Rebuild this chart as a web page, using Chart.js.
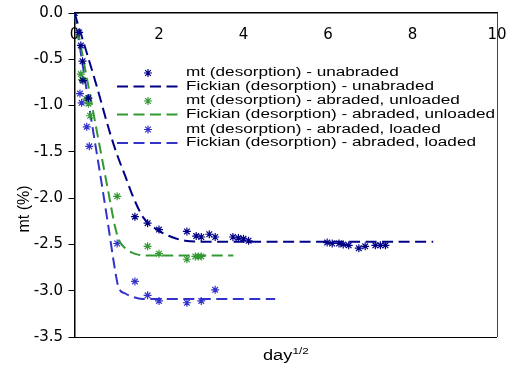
<!DOCTYPE html>
<html><head><meta charset="utf-8">
<script src="https://cdn.jsdelivr.net/npm/chart.js@4.4.0/dist/chart.umd.min.js"></script>
<style>html,body{margin:0;padding:0;background:#fff;}#wrap{width:507px;height:367px;position:relative;}</style>
</head><body><div id="wrap"><canvas id="c" width="507" height="367"></canvas></div>
<script>
// ---- data ----
const xTickValues = [0, 2, 4, 6, 8, 10];
const yTickValues = [0, -0.5, -1, -1.5, -2, -2.5, -3, -3.5];
const seriesLabels = [
  'mt (desorption) - unabraded',
  'Fickian (desorption) - unabraded',
  'mt (desorption) - abraded, unloaded',
  'Fickian (desorption) - abraded, unloaded',
  'mt (desorption) - abraded, loaded',
  'Fickian (desorption) - abraded, loaded'
];
const mtUnabraded = [[0,0],[0.11,-0.21],[0.15,-0.35],[0.19,-0.52],[0.2,-0.73],[0.33,-0.92],[1.43,-2.20],[1.73,-2.27],[2.0,-2.34],[2.66,-2.36],[2.88,-2.41],[3.0,-2.42],[3.19,-2.39],[3.33,-2.42],[3.75,-2.42],[3.88,-2.43],[4.0,-2.44],[4.12,-2.46],[5.98,-2.48],[6.1,-2.49],[6.26,-2.49],[6.36,-2.50],[6.49,-2.51],[6.73,-2.54],[6.88,-2.52],[7.12,-2.51],[7.24,-2.51],[7.36,-2.51]];
const fickUnabraded = [[0,0],[0.25,-0.37],[0.5,-0.75],[0.83,-1.28],[1.0,-1.52],[1.2,-1.76],[1.4,-2.0],[1.63,-2.21],[1.95,-2.34],[2.3,-2.42],[2.62,-2.46],[3.0,-2.47],[8.49,-2.47]];
const mtAbradedUnloaded = [[0,0],[0.15,-0.66],[0.18,-0.72],[0.28,-0.93],[0.33,-0.98],[0.37,-1.11],[1.01,-1.98],[1.73,-2.52],[2.0,-2.60],[2.66,-2.66],[2.86,-2.63],[2.93,-2.63],[3.0,-2.63]];
const fickAbradedUnloaded = [[0,0],[0.3,-0.72],[0.6,-1.45],[0.8,-1.93],[0.96,-2.31],[1.05,-2.45],[1.2,-2.54],[1.5,-2.61],[1.8,-2.62],[3.76,-2.62]];
const mtAbradedLoaded = [[0,0],[0.13,-0.87],[0.17,-0.97],[0.29,-1.23],[0.35,-1.44],[1.01,-2.49],[1.43,-2.90],[1.73,-3.05],[2.0,-3.11],[2.66,-3.13],[3.0,-3.11],[3.33,-2.99]];
const fickAbradedLoaded = [[0,0],[0.2,-0.58],[0.4,-1.16],[0.6,-1.72],[0.8,-2.3],[0.95,-2.75],[1.04,-2.96],[1.2,-3.03],[1.4,-3.07],[1.6,-3.09],[4.75,-3.09]];

// ---- styles ----
const NAVY = '#000086', GREEN = '#339933', BLUE = '#3333CC';
const DASH = [11, 5.5];
const toXY = a => a.map(([x, y]) => ({x, y}));

function pts(label, data, color) {
  return {label, data: toXY(data), showLine: false, pointStyle: 'star', pointRadius: 4,
    borderColor: color, backgroundColor: color, pointBorderWidth: 1.2};
}
function fit(label, data, color) {
  return {label, data: toXY(data), showLine: true, pointRadius: 0, borderColor: color,
    borderWidth: 2, borderDash: DASH, cubicInterpolationMode: 'monotone', fill: false};
}

function stretchText(ctx, txt, x, y, sx) {
  ctx.save(); ctx.translate(x, y); ctx.scale(sx, 1); ctx.fillText(txt, 0, 0); ctx.restore();
}
function star(ctx, x, y, r, color) {
  ctx.save(); ctx.strokeStyle = color; ctx.lineWidth = 1.2; ctx.beginPath();
  for (let k = 0; k < 4; k++) {
    const a = k * Math.PI / 4;
    ctx.moveTo(x - Math.cos(a) * r, y - Math.sin(a) * r);
    ctx.lineTo(x + Math.cos(a) * r, y + Math.sin(a) * r);
  }
  ctx.stroke(); ctx.restore();
}

const decor = {
  id: 'decor',
  afterDraw(chart) {
    const {ctx, chartArea: a} = chart;
    ctx.save();
    // right and bottom frame
    ctx.lineWidth = 1;
    ctx.strokeStyle = '#000';
    ctx.beginPath(); ctx.moveTo(a.left, a.bottom + 0.5); ctx.lineTo(a.right, a.bottom + 0.5); ctx.stroke();
    ctx.strokeStyle = '#444';
    ctx.beginPath(); ctx.moveTo(a.right + 0.5, a.top); ctx.lineTo(a.right + 0.5, a.bottom); ctx.stroke();

    // legend
    const ds = chart.data.datasets;
    const rows = [73, 86.5, 101, 114.5, 129.5, 143];
    ctx.font = '12px "Liberation Sans", Arial, sans-serif';
    ctx.textBaseline = 'middle';
    ctx.textAlign = 'left';
    ds.forEach((d, i) => {
      const y = rows[i];
      if (d.showLine) {
        ctx.save(); ctx.strokeStyle = d.borderColor; ctx.lineWidth = 2; ctx.setLineDash(DASH);
        ctx.beginPath(); ctx.moveTo(117, y); ctx.lineTo(181, y); ctx.stroke(); ctx.restore();
      } else {
        star(ctx, 148, y, 4, d.borderColor);
      }
      ctx.fillStyle = '#000';
      stretchText(ctx, d.label, 186, y, 1.43);
    });

    // axis titles
    ctx.fillStyle = '#000';
    ctx.textBaseline = 'alphabetic';
    ctx.textAlign = 'left';
    ctx.font = '14px "Liberation Sans", Arial, sans-serif';
    stretchText(ctx, 'day', 263, 360, 1.3);
    ctx.font = '9px "Liberation Sans", Arial, sans-serif';
    stretchText(ctx, '1/2', 292.5, 354, 1.3);

    ctx.save();
    ctx.translate(25, 209);
    ctx.rotate(-Math.PI / 2);
    ctx.textAlign = 'center';
    ctx.textBaseline = 'middle';
    ctx.font = '16px "Liberation Sans", Arial, sans-serif';
    ctx.fillText('mt (%)', 0, 0);
    ctx.restore();
    ctx.restore();
  }
};

new Chart(document.getElementById('c'), {
  type: 'scatter',
  data: {
    datasets: [
      pts(seriesLabels[0], mtUnabraded, NAVY),
      fit(seriesLabels[1], fickUnabraded, NAVY),
      pts(seriesLabels[2], mtAbradedUnloaded, GREEN),
      fit(seriesLabels[3], fickAbradedUnloaded, GREEN),
      pts(seriesLabels[4], mtAbradedLoaded, BLUE),
      fit(seriesLabels[5], fickAbradedLoaded, BLUE)
    ]
  },
  options: {
    responsive: false,
    animation: false,
    layout: {padding: {left: 0, top: 0, right: 10, bottom: 30}},
    plugins: {legend: {display: false}, tooltip: {enabled: false}},
    scales: {
      x: {
        type: 'linear', position: 'top', min: 0, max: 10,
        afterBuildTicks: s => { s.ticks = xTickValues.map(v => ({value: v})); },
        ticks: {mirror: true, padding: 13, color: '#000',
          font: {family: 'DejaVu Sans', size: 15}, callback: v => String(v)},
        grid: {drawOnChartArea: false, drawTicks: false},
        border: {display: true, color: '#000', width: 1.5},
        afterFit: s => { s.height = 13; s.paddingLeft = 0; s.paddingRight = 0; }
      },
      y: {
        type: 'linear', min: -3.5, max: 0,
        afterBuildTicks: s => { s.ticks = yTickValues.map(v => ({value: v})); },
        ticks: {padding: 5.5, color: '#000', font: {family: 'DejaVu Sans', size: 15},
          callback: v => v.toFixed(1)},
        grid: {drawOnChartArea: false, drawTicks: true, tickLength: 6, color: '#000', lineWidth: 1},
        border: {display: true, color: '#000', width: 1.5},
        afterFit: s => { s.width = 74.5; s.paddingTop = 0; s.paddingBottom = 0; }
      }
    }
  },
  plugins: [decor]
});
</script>
</body></html>
